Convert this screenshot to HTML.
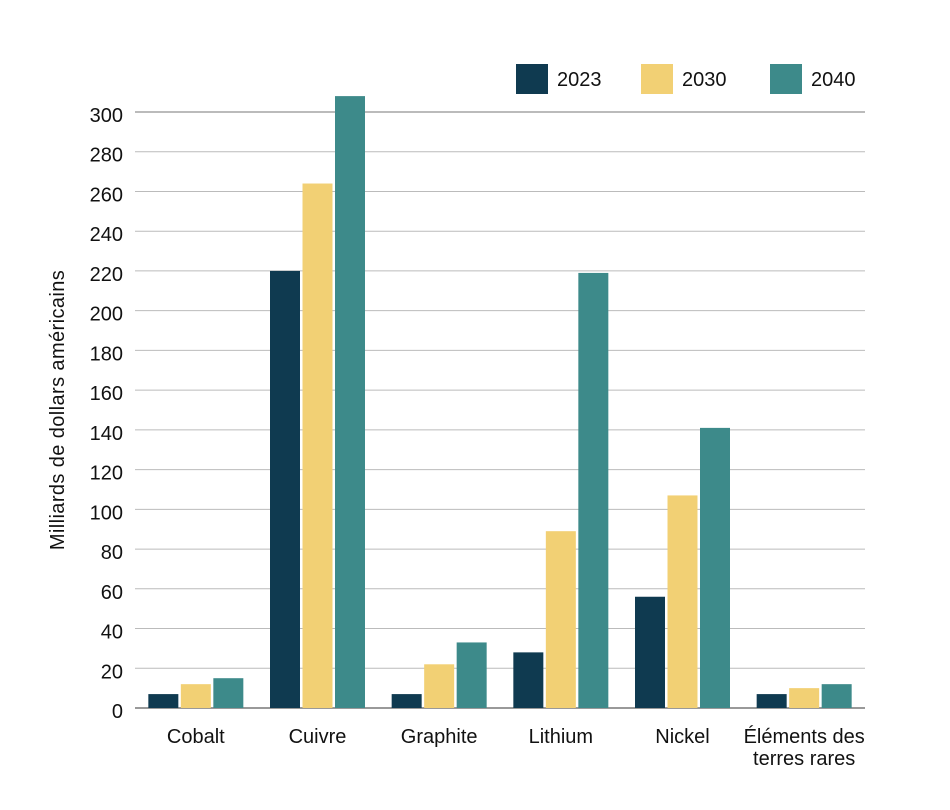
<!DOCTYPE html>
<html><head><meta charset="utf-8"><style>
body{margin:0;background:#fff;font-family:"Liberation Sans",sans-serif;}
svg text{font-family:"Liberation Sans",sans-serif;fill:#111;}
</style></head><body>
<svg id="chart" width="950" height="805"></svg>
<script>
const categories=["Cobalt","Cuivre","Graphite","Lithium","Nickel","Éléments des|terres rares"];
const seriesNames=["2023","2030","2040"];
const values2023=[7,220,7,28,56,7];
const values2030=[12,264,22,89,107,10];
const values2040=[15,308,33,219,141,12];
const yTicks=[0,20,40,60,80,100,120,140,160,180,200,220,240,260,280,300];
const colors=["#0f3a50","#f2d074","#3d8a8a"];
const NS="http://www.w3.org/2000/svg";
const svg=document.getElementById("chart");
const x0=135,x1=865,yBase=708,yTop=112,yMax=300;
const y=v=>yBase-(v/yMax)*(yBase-yTop);
const band=(x1-x0)/categories.length;
const cx=i=>x0+band*(i+0.5);
function mk(tag,attrs){const e=document.createElementNS(NS,tag);for(const k in attrs)e.setAttribute(k,attrs[k]);svg.appendChild(e);return e;}
yTicks.forEach(t=>{
  const l=mk("line",{x1:x0,x2:x1,y1:y(t),y2:y(t),stroke:t===0?"#333":(t===300?"#777":"#bbb"),"stroke-width":1});
  
  
  const tx=mk("text",{x:123,y:y(t)+10,"text-anchor":"end","font-size":20});
  tx.textContent=t;
  
  
});
const all=[values2023,values2030,values2040];
const bw=30,gap=2.5;
categories.forEach((c,i)=>{
  all.forEach((vals,s)=>{
    const bx=cx(i)+(s-1)*(bw+gap)-bw/2;
    const r=mk("rect",{x:bx,y:y(vals[i]),width:bw,height:yBase-y(vals[i]),fill:colors[s]});
    
    
  });
  const parts=c.split("|");
  parts.forEach((p,k)=>{
    const t=mk("text",{x:cx(i),y:743+k*22,"text-anchor":"middle","font-size":20});
    t.textContent=p;
    
    
  });
});
const lx=[516,641,770];
seriesNames.forEach((n,s)=>{
  const r=mk("rect",{x:lx[s],y:64,width:32,height:30,fill:colors[s]});
  
  
  const t=mk("text",{x:lx[s]+41,y:86,"font-size":20});
  t.textContent=n;
  
  
});
const yt=mk("text",{x:0,y:0,"text-anchor":"middle","font-size":20,"letter-spacing":"0.4",transform:"translate(64,410) rotate(-90)"});
yt.textContent="Milliards de dollars américains";


</script>
</body></html>
